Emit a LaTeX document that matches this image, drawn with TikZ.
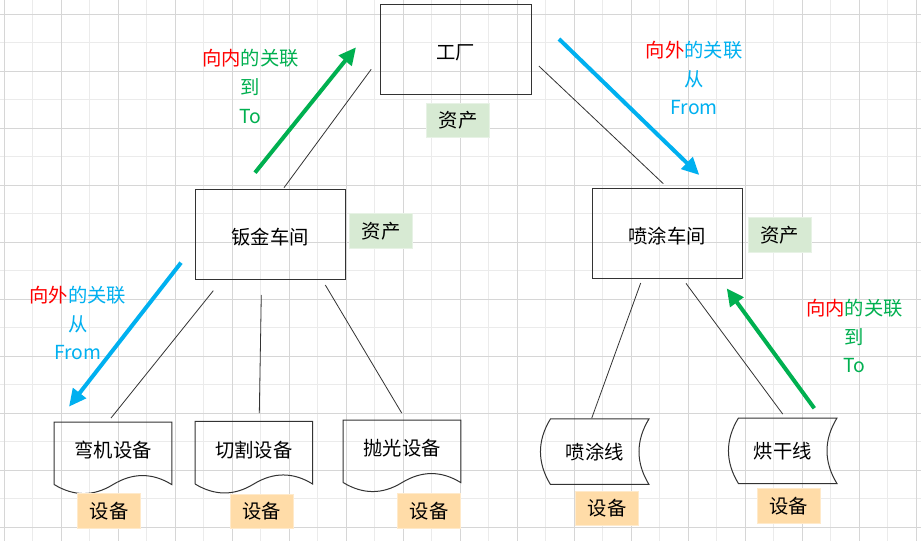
\documentclass[tikz,border=0pt]{standalone}
\usepackage{fontspec}
\setmainfont{Noto Sans CJK SC}
\definecolor{LinkRed}{HTML}{FF0000}
\definecolor{LinkGreen}{HTML}{00B050}
\definecolor{LinkBlue}{HTML}{00B0F0}
\definecolor{AssetGreen}{HTML}{D7EAD3}
\definecolor{DeviceOrange}{HTML}{FFDCA8}
\usetikzlibrary{arrows.meta, calc}
\newcommand\diagfont{\fontsize{14.5}{21.4}\selectfont}
% outline of a document shape round a node
\newcommand\docoutline[1]{%
  \draw[shapeline] (#1.south west) -- (#1.north west) -- (#1.north east) -- (#1.south east)
    .. controls ($(#1.south east)+(-19.5,-12)$) and ($(#1.south east)+(-39,-12)$) .. (#1.south)
    .. controls ($(#1.south)+(-19.5,12)$) and ($(#1.south)+(-39,12)$) .. (#1.south west);}
% outline of a stored-data shape round a node
\newcommand\storeoutline[1]{%
  \draw[shapeline] ($(#1.north west)+(10,0)$) -- (#1.north east)
    .. controls ($(#1.north east)+(-13.3,21.7)$) and ($(#1.south east)+(-13.3,-21.7)$) .. (#1.south east)
    -- ($(#1.south west)+(10,0)$)
    .. controls ($(#1.south west)+(-3.3,-21.7)$) and ($(#1.north west)+(-3.3,21.7)$) .. cycle;}

\begin{document}
\begin{tikzpicture}[x=0.75pt, y=-0.75pt,
  shapeline/.style={draw=black!80, line width=0.75pt},
  unitbox/.style={shapeline, minimum width=112.5pt, minimum height=67.5pt, inner sep=0pt,
                  text height=15pt, text depth=0pt, font=\diagfont},
  docnode/.style={minimum width=87.75pt, minimum height=46.5pt, inner sep=0pt,
                  text height=7pt, text depth=0pt, font=\diagfont},
  storenode/.style={minimum width=81pt, minimum height=48.75pt, inner sep=0pt, font=\diagfont},
  tag/.style={minimum width=47.25pt, minimum height=26pt, inner sep=0pt, line width=0.75pt, font=\diagfont},
  asset/.style={tag, fill=AssetGreen, draw=AssetGreen!60},
  device/.style={tag, fill=DeviceOrange, draw=DeviceOrange!60},
  link/.style={draw=black!80, line width=0.6pt},
  linklabel/.style={align=center, inner sep=0pt, font=\diagfont},
  inarrow/.style={line width=3pt, LinkGreen, -{Triangle[length=13pt, width=12pt]}},
  outarrow/.style={line width=3pt, LinkBlue, -{Triangle[length=13pt, width=12pt]}}]
  \useasboundingbox[fill=white] (0,0) rectangle (921,541);
  % Grid
  \foreach \k in {0,...,15} \draw[black!8, line width=0.75pt] ({32.8+57*\k},0) -- ({32.8+57*\k},541);
  \foreach \k in {0,...,8} \draw[black!8, line width=0.75pt] (0,{42.8+57*\k}) -- (921,{42.8+57*\k});
  \foreach \k in {0,...,16} \draw[black!16, line width=0.75pt] ({4.3+57*\k},0) -- ({4.3+57*\k},541);
  \foreach \k in {0,...,9} \draw[black!16, line width=0.75pt] (0,{14.3+57*\k}) -- (921,{14.3+57*\k});

  % Units
  \node[unitbox, minimum width=113.25pt] (factory) at (455.5,49.3) {工厂};
  \node[unitbox] (sheetmetal) at (270.3,234.2) {钣金车间};
  \node[unitbox] (painting) at (667.3,233.2) {喷涂车间};
  \node[asset] (asset1) at (458,120.5) {资产};
  \node[asset] (asset2) at (381,230.8) {资产};
  \node[asset] (asset3) at (779.8,234.8) {资产};

  % Equipment
  \node[docnode] (bender) at (113,453.3) {弯机设备};
  \node[docnode] (cutter) at (253.8,452.7) {切割设备};
  \node[docnode] (polisher) at (402,451.3) {抛光设备};
  \node[storenode] (sprayline) at (594.7,451.7) {喷涂线};
  \node[storenode] (dryline) at (782.7,450.8) {烘干线};
  \docoutline{bender}
  \docoutline{cutter}
  \docoutline{polisher}
  \storeoutline{sprayline}
  \storeoutline{dryline}
  \node[device] (device1) at (109,510.8) {设备};
  \node[device] (device2) at (261.7,511.5) {设备};
  \node[device] (device3) at (429,510.7) {设备};
  \node[device] (device4) at (607,508.5) {设备};
  \node[device] (device5) at (788.7,505.8) {设备};

  % Tree links
  \draw[link] ($(factory.west)+(-8.3,20)$) -- ($(sheetmetal.north)+(13.7,-1)$);
  \draw[link] ($(factory.east)+(7.3,16.7)$) -- ($(painting.north)+(-4,-4)$);
  \draw[link] ($(sheetmetal.south)+(-57,11)$) -- ($(bender.north)+(-2,-4)$);
  \draw[link] ($(sheetmetal.south)+(-9,15.3)$) -- ($(cutter.north)+(5.5,-8.4)$);
  \draw[link] ($(sheetmetal.south)+(55,5.3)$) -- ($(polisher.north)+(-0.3,-7)$);
  \draw[link] ($(painting.south)+(-26.6,4.3)$) -- ($(sprayline.north)+(-3,-0.7)$);
  \draw[link] ($(painting.south)+(18.7,4.7)$) -- ($(dryline.north)+(0,-4)$);

  % Association arrows
  \coordinate (in1s) at (255,172.7);  \coordinate (in1e) at (356,47.3);
  \coordinate (out1s) at (559,39);    \coordinate (out1e) at (699.3,175);
  \coordinate (out2s) at (181,262.7); \coordinate (out2e) at (69,406.7);
  \coordinate (in2s) at (814.3,408.3); \coordinate (in2e) at (726.7,288.3);
  \draw[inarrow] (in1s) -- (in1e);
  \draw[outarrow] (out1s) -- (out1e);
  \draw[outarrow] (out2s) -- (out2e);
  \draw[inarrow] (in2s) -- (in2e);
  \node[linklabel, text=LinkGreen] (inlabel1) at (250.5,86.5) {{\color{LinkRed}向内}的关联\\到\\To};
  \node[linklabel, text=LinkBlue] (outlabel1) at (694.3,78) {{\color{LinkRed}向外}的关联\\从\\From};
  \node[linklabel, text=LinkBlue] (outlabel2) at (77.7,323) {{\color{LinkRed}向外}的关联\\从\\From};
  \node[linklabel, text=LinkGreen] (inlabel2) at (854.5,336) {{\color{LinkRed}向内}的关联\\到\\To};
\end{tikzpicture}
\end{document}
